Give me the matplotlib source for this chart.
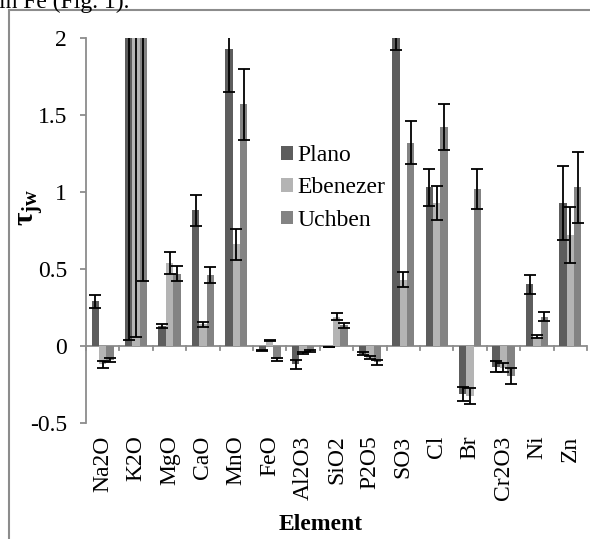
import numpy as np
import matplotlib
matplotlib.use("Agg")
import matplotlib.pyplot as plt
from matplotlib.patches import Patch, Rectangle

plt.rcParams['font.family'] = ['Liberation Serif', 'DejaVu Serif']
plt.rcParams['mathtext.fontset'] = 'custom'
plt.rcParams['mathtext.rm'] = 'Liberation Serif'
plt.rcParams['mathtext.it'] = 'Liberation Serif:italic'
plt.rcParams['mathtext.bf'] = 'Liberation Serif:bold'

# data
elements = ['Na2O', 'K2O', 'MgO', 'CaO', 'MnO', 'FeO', 'Al2O3', 'SiO2', 'P2O5',
            'SO3', 'Cl', 'Br', 'Cr2O3', 'Ni', 'Zn']
series = ['Plano', 'Ebenezer', 'Uchben']
plano = [0.29, 3.5, 0.13, 0.88, 1.93, -0.028, -0.12, -0.005, -0.05,
         2.2, 1.03, -0.31, -0.135, 0.40, 0.93]
plano_err = [0.04, 3.46, 0.016, 0.10, 0.28, 0.005, 0.027, 0.0, 0.008,
             0.28, 0.12, 0.045, 0.035, 0.06, 0.24]
ebenezer = [-0.12, 3.0, 0.54, 0.14, 0.66, 0.035, -0.045, 0.19, -0.075,
            0.43, 0.93, -0.325, -0.14, 0.06, 0.72]
ebenezer_err = [0.02, 2.94, 0.07, 0.016, 0.10, 0.005, 0.006, 0.022, 0.01,
                0.05, 0.11, 0.05, 0.03, 0.01, 0.18]
uchben = [-0.09, 2.8, 0.47, 0.46, 1.57, -0.085, -0.03, 0.135, -0.105,
          1.32, 1.42, 1.02, -0.195, 0.19, 1.03]
uchben_err = [0.015, 2.38, 0.05, 0.05, 0.23, 0.01, 0.006, 0.015, 0.016,
              0.14, 0.15, 0.13, 0.05, 0.03, 0.23]
colors = ['#5d5d5d', '#b4b4b4', '#838383']
yticks = [-0.5, 0, 0.5, 1, 1.5, 2]

W, H = 590, 539
fig = plt.figure(figsize=(W / 100, H / 100), dpi=100)
ax = fig.add_axes([86 / W, 1 - 423 / H, 501 / W, 385 / H])

x = np.arange(len(elements))
bw = 0.22
vals = [plano, ebenezer, uchben]
errs = [plano_err, ebenezer_err, uchben_err]
for i in range(3):
    pos = x + (i - 1) * bw
    ax.bar(pos, vals[i], width=bw, color=colors[i], label=series[i], zorder=2)
    ax.errorbar(pos, vals[i], yerr=errs[i], fmt='none', ecolor='black',
                elinewidth=1.3, capsize=4.5, capthick=1.3, zorder=3)

ax.set_xlim(-0.5, len(elements) - 0.5)
ax.set_ylim(-0.5, 2)
ax.set_yticks(yticks)
ax.set_yticklabels(['-0.5', '0', '0.5', '1', '1.5', '2'])

# category axis at y = 0 with boundary ticks
ax.axhline(0, color='#8c8c8c', lw=1.3, zorder=1)
for b in np.arange(len(elements) + 1) - 0.5:
    ax.plot([b, b], [0, -0.028], color='#8c8c8c', lw=1.3, zorder=1, clip_on=False)

for s in ['top', 'right', 'bottom']:
    ax.spines[s].set_visible(False)
ax.spines['left'].set_color('#8c8c8c')
ax.spines['left'].set_linewidth(1.3)
ax.tick_params(axis='y', length=4.5, width=1.3, color='#8c8c8c', labelsize=17, pad=9)
ax.set_xticks(x)
ax.set_xticklabels(elements, rotation=90, fontsize=17)
ax.tick_params(axis='x', length=0, pad=9)

ax.set_xlabel('Element', fontsize=17, fontweight='bold')
ax.xaxis.set_label_coords((321 - 86) / 501, (423 - 514) / 385)
ax.set_ylabel(r'$\mathbf{\tau_{jw}}$', fontsize=21)
ax.yaxis.set_label_coords((45 - 86) / 501, (423 - 207) / 385)

handles = [Patch(facecolor=c, edgecolor='none') for c in colors]
fig.legend(handles, series, loc='center left', bbox_to_anchor=(281 / W, 1 - 188 / H),
           frameon=False, fontsize=17, handlelength=0.5, handleheight=0.5,
           handletextpad=0.2, labelspacing=0.48, borderpad=0, borderaxespad=0)

# chart area border and clipped caption line above it
fig.patches.append(Rectangle((9 / W, -0.05), 1.1, 1 - 10 / H + 0.05,
                             transform=fig.transFigure, fill=False,
                             edgecolor='#8c8c8c', lw=1.5))
fig.text(-1 / W, 1 - 8 / H, 'in Fe (Fig. 1).', fontsize=17, va='baseline')

fig.savefig('out.png', dpi=100)
